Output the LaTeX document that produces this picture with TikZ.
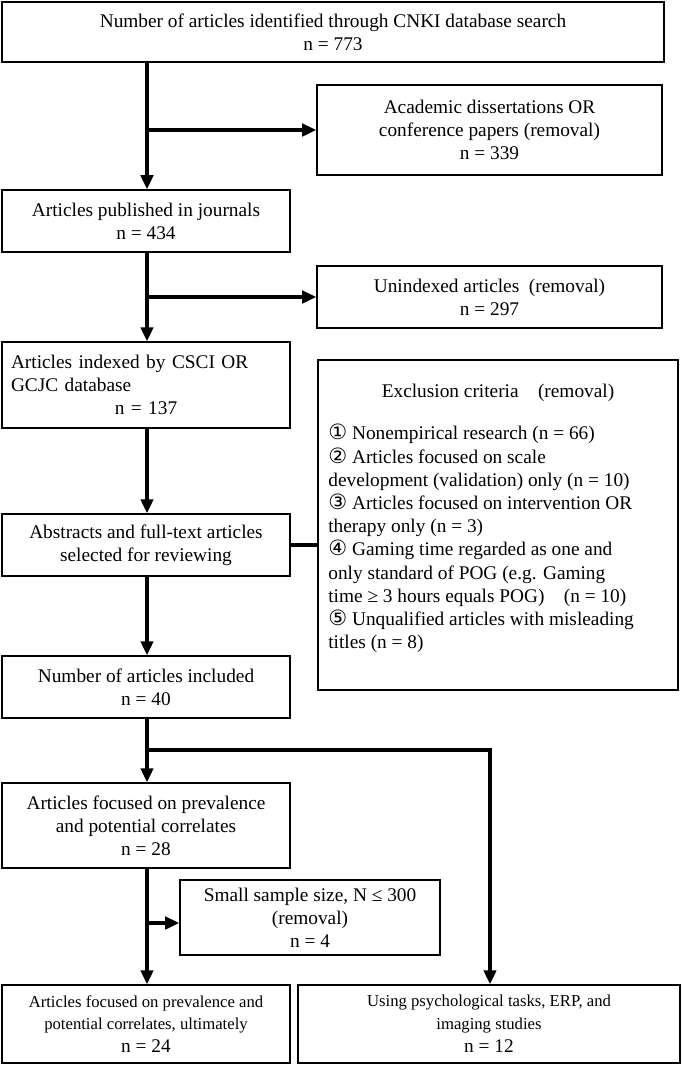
\documentclass[tikz,border=0pt]{standalone}
\usepackage{fontspec}
\setmainfont{Liberation Serif}
\newfontfamily\symfont{DejaVu Sans}
\usetikzlibrary{arrows.meta}
\newcommand{\cnum}[1]{{\symfont\large #1}}
\begin{document}
\begin{tikzpicture}[x=0.02cm,y=-0.02cm,
    box/.style={draw, line width=0.8pt, align=center, font=\fontsize{11}{13}\selectfont, inner sep=2pt},
    flow/.style={line width=2pt, -{Triangle[length=8pt,width=7pt]}},
    link/.style={line width=2pt}]
\useasboundingbox (0,0) rectangle (685,1066);
\node[box, minimum width=662*0.02cm, minimum height=60*0.02cm] (search) at (333,32) {Number of articles identified through CNKI database search\\n = 773};
\node[box, minimum width=345*0.02cm, minimum height=90*0.02cm] (acad) at (489.5,130) {Academic dissertations OR\\conference papers (removal)\\n = 339};
\node[box, minimum width=288*0.02cm, minimum height=62*0.02cm] (journal) at (146,221) {Articles published in journals\\n = 434};
\node[box, minimum width=345*0.02cm, minimum height=62*0.02cm] (unindex) at (489.5,297) {Unindexed articles\ \ (removal)\\n = 297};
\node[box, minimum width=288*0.02cm, minimum height=86*0.02cm, text width=270*0.02cm, align=left] (indexed) at (146,385) {Articles indexed by CSCI OR\\\hspace*{0pt}GCJC database\\\hfill n = 137\hfill\null};
\node[box, minimum width=360*0.02cm, minimum height=330*0.02cm] (exclude) at (498,525) {};
\node[anchor=north, font=\fontsize{11}{13}\selectfont] (extitle) at (498,378) {Exclusion criteria\quad (removal)};
\node[anchor=north west, align=left, font=\fontsize{11}{13.2}\selectfont, inner sep=0pt] (exlist) at (328,424) {%
\cnum{①} Nonempirical research (n = 66)\\
\cnum{②} Articles focused on scale\\
development (validation) only (n = 10)\\
\cnum{③} Articles focused on intervention OR\\
therapy only (n = 3)\\
\cnum{④} Gaming time regarded as one and\\
only standard of POG (e.g. Gaming\\
time ≥ 3 hours equals POG)\quad (n = 10)\\
\cnum{⑤} Unqualified articles with misleading\\
titles (n = 8)};
\node[box, minimum width=288*0.02cm, minimum height=62*0.02cm] (abstract) at (146,545) {Abstracts and full-text articles\\selected for reviewing};
\node[box, minimum width=288*0.02cm, minimum height=62*0.02cm] (included) at (146,687) {Number of articles included\\n = 40};
\node[box, minimum width=288*0.02cm, minimum height=85*0.02cm] (prev) at (146,825.5) {Articles focused on prevalence\\and potential correlates\\n = 28};
\node[box, minimum width=260*0.02cm, minimum height=75*0.02cm] (small) at (310,917.5) {Small sample size, N ≤ 300\\(removal)\\n = 4};
\node[box, minimum width=288*0.02cm, minimum height=78*0.02cm, font=\fontsize{9.5}{13}\selectfont] (final) at (146,1024) {Articles focused on prevalence and\\potential correlates, ultimately\\{\fontsize{11}{13}\selectfont n = 24}};
\node[box, minimum width=382*0.02cm, minimum height=78*0.02cm, font=\fontsize{9.5}{13}\selectfont] (tasks) at (489,1024) {Using psychological tasks, ERP, and\\imaging studies\\{\fontsize{11}{13}\selectfont n = 12}};
\coordinate (b1) at (147,130);
\coordinate (b2) at (147,297);
\coordinate (b3) at (147,750);
\coordinate (b4) at (147,923);
\coordinate (b5) at (490,750);
\draw[flow] (search.south -| b1) -- (journal.north -| b1);
\draw[flow] (b1) -- (acad.west);
\draw[flow] (journal.south -| b2) -- (indexed.north -| b2);
\draw[flow] (b2) -- (unindex.west);
\draw[flow] (indexed.south -| b2) -- (abstract.north -| b2);
\draw[link] (abstract.east) -- (exclude.west |- abstract.east);
\draw[flow] (abstract.south -| b2) -- (included.north -| b2);
\draw[flow] (included.south -| b3) -- (prev.north -| b3);
\draw[flow] (b3) -- (b5) -- (tasks.north -| b5);
\draw[flow] (prev.south -| b4) -- (final.north -| b4);
\draw[flow] (b4) -- (small.west |- b4);
\end{tikzpicture}
\end{document}
